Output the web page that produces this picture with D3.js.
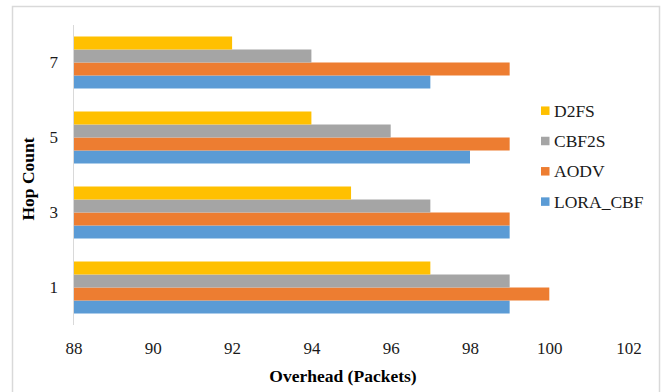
<!DOCTYPE html>
<html>
<head>
<meta charset="utf-8">
<script src="https://cdn.jsdelivr.net/npm/d3@7"></script>
<style>
  html, body { margin: 0; padding: 0; background: #fff; }
  svg { display: block; }
  svg text { font-family: "Liberation Serif", "Times New Roman", serif !important; }
</style>
</head>
<body>
<svg id="chart" width="661" height="392"></svg>
<script>
// Data
const categories = ["1", "3", "5", "7"];
const seriesNames = ["LORA_CBF", "AODV", "CBF2S", "D2FS"];
const LORA_CBF = [99, 99, 98, 97];
const AODV = [100, 99, 99, 99];
const CBF2S = [99, 97, 96, 94];
const D2FS = [97, 95, 94, 92];
const xTicks = [88, 90, 92, 94, 96, 98, 100, 102];
const colors = ["#5B9BD5", "#ED7D31", "#A5A5A5", "#FFC000"];

const seriesValues = [LORA_CBF, AODV, CBF2S, D2FS];

const svg = d3.select("#chart");

// outer border
svg.append("rect")
  .attr("x", 12.5).attr("y", 6.5)
  .attr("width", 647).attr("height", 400)
  .attr("fill", "none").attr("stroke", "#d9d9d9").attr("stroke-width", 1.5);

const plot = { left: 73.5, right: 628.6, top: 25, bottom: 325 };

const x = d3.scaleLinear().domain([88, 102]).range([plot.left, plot.right]);
const y = d3.scaleBand()
  .domain(categories.slice().reverse())
  .range([plot.top, plot.bottom])
  .paddingInner(0.3067)
  .paddingOuter(0.1533);
const ySub = d3.scaleBand()
  .domain(seriesNames.slice().reverse())
  .range([0, y.bandwidth()]);

// bars
const rows = [];
categories.forEach((c, i) => {
  seriesNames.forEach((s, j) => {
    rows.push({ cat: c, series: s, value: seriesValues[j][i], color: colors[j] });
  });
});

svg.append("g").selectAll("rect")
  .data(rows)
  .join("rect")
  .attr("x", x(88))
  .attr("y", d => y(d.cat) + ySub(d.series))
  .attr("width", d => x(d.value) - x(88))
  .attr("height", ySub.bandwidth())
  .attr("fill", d => d.color);

// vertical axis line
svg.append("line")
  .attr("x1", plot.left).attr("x2", plot.left)
  .attr("y1", plot.top).attr("y2", plot.bottom)
  .attr("stroke", "#d9d9d9").attr("stroke-width", 1);

// x tick labels
const xAxis = d3.axisBottom(x).tickValues(xTicks).tickSize(0).tickPadding(0);
const gx = svg.append("g").attr("transform", "translate(0,342)").call(xAxis);
gx.select(".domain").remove();
gx.selectAll("text")
  .attr("font-size", 17).attr("fill", "#1a1a1a")
  .attr("dy", "0.71em");

// y tick labels
const yAxis = d3.axisLeft(y).tickSize(0).tickPadding(0);
const gy = svg.append("g").attr("transform", "translate(58,0)").call(yAxis);
gy.select(".domain").remove();
gy.selectAll("text")
  .attr("font-size", 17).attr("fill", "#1a1a1a");

// axis titles
svg.append("text")
  .attr("x", 343).attr("y", 382)
  .attr("text-anchor", "middle")
  .attr("font-weight", "bold").attr("font-size", 17.5)
  .attr("fill", "#000")
  .text("Overhead (Packets)");

svg.append("text")
  .attr("transform", "translate(34,179) rotate(-90)")
  .attr("text-anchor", "middle")
  .attr("font-weight", "bold").attr("font-size", 17.5)
  .attr("fill", "#000")
  .text("Hop Count");

// legend
const legendOrder = seriesNames.map((s, j) => ({ name: s, color: colors[j] })).reverse();
const legend = svg.append("g");
const ly = d3.scaleLinear().domain([0, 1]).range([110.7, 141]);
legendOrder.forEach((d, i) => {
  const cy = ly(i);
  legend.append("rect")
    .attr("x", 541).attr("y", cy - 4.25)
    .attr("width", 8.5).attr("height", 8.5)
    .attr("fill", d.color);
  legend.append("text")
    .attr("x", 554).attr("y", cy)
    .attr("dy", "0.35em")
    .attr("font-size", 17.5).attr("fill", "#1a1a1a")
    .text(d.name);
});
</script>
</body>
</html>
